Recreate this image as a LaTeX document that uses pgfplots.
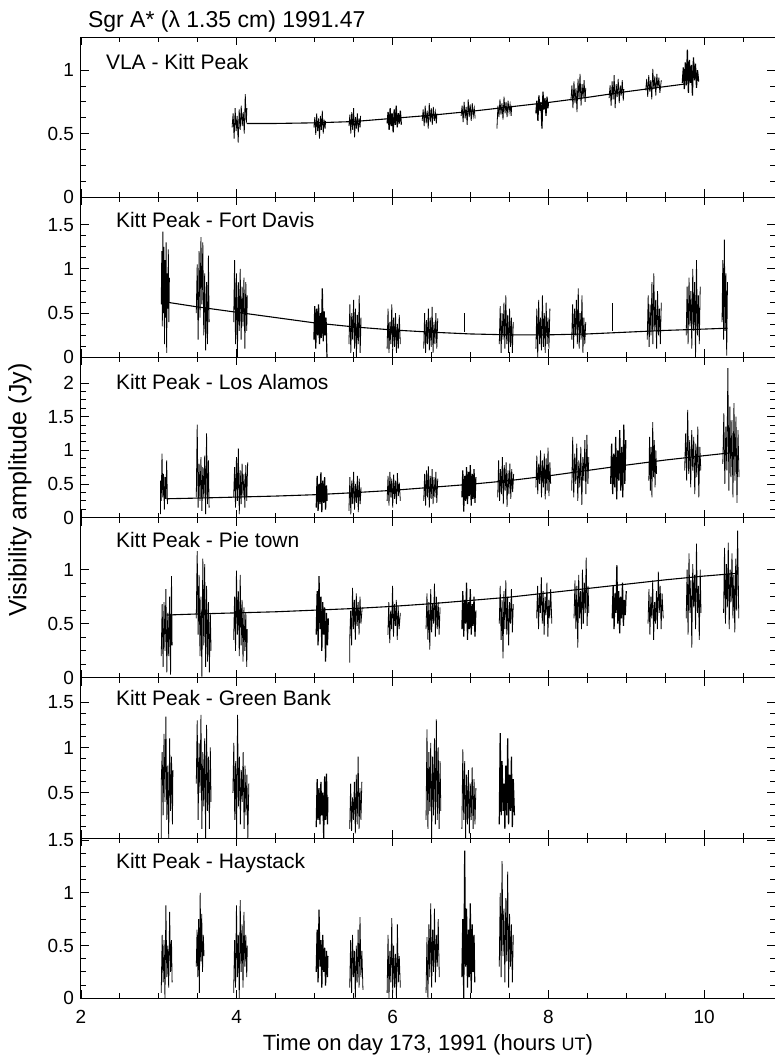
\documentclass[border=0pt]{standalone}
\usepackage{fontspec}
\setmainfont{Liberation Sans}
\usepackage{pgfplots}
\pgfplotsset{compat=1.18}

\newcommand\ticksize{\fontsize{9.5}{11}\selectfont}
\newcommand\lblsize{\fontsize{10.5}{12}\selectfont}

\pgfplotsset{
  panel/.style={
    scale only axis, width=347pt, height=80.1pt,
    xmin=2, xmax=10.91, ymin=0,
    axis line style={line width=0.5pt},
    tick style={black, line width=0.45pt},
    tick align=inside,
    major tick length=4pt, minor tick length=2.5pt,
    xtick={2,4,6,8,10}, minor xtick={2.5,3,...,10.5},
    xticklabels={},
    xticklabel style={yshift=-2.5pt},
    minor y tick num=3,
    ticklabel style={font=\ticksize},
    /pgf/number format/assume math mode=true,
    cycle list={{black, solid, mark=none, line width=0.6pt}},
  },
  model/.style={black, solid, mark=none, line width=0.55pt},
}

\begin{document}
\begin{tikzpicture}
\useasboundingbox (-40.5pt,-510pt) rectangle (347pt,18.5pt);

% ---------------- VLA - Kitt Peak
\begin{axis}[panel, name=p1, at={(0,0)}, anchor=north west,
  ymax=1.26, ytick={0,0.5,1}]
\addplot coordinates {(3.94,0.55)(3.953,0.66)(3.966,0.46)(3.979,0.70)(3.992,0.52)(4.005,0.64)(4.018,0.43)(4.031,0.69)(4.044,0.53)(4.057,0.72)(4.07,0.56)(4.083,0.67)(4.096,0.50)(4.109,0.81)(4.122,0.58)(4.13,0.70)};
\addplot coordinates {(4.99,0.55)(5.002,0.63)(5.014,0.49)(5.026,0.66)(5.038,0.52)(5.05,0.62)(5.062,0.46)(5.074,0.64)(5.086,0.53)(5.098,0.68)(5.11,0.50)(5.122,0.61)(5.134,0.54)(5.14,0.60)};
\addplot coordinates {(5.44,0.56)(5.452,0.65)(5.464,0.50)(5.476,0.67)(5.488,0.53)(5.50,0.70)(5.512,0.47)(5.524,0.63)(5.536,0.54)(5.548,0.66)(5.56,0.51)(5.572,0.62)(5.584,0.55)(5.59,0.64)};
\addplot coordinates {(5.93,0.58)(5.943,0.67)(5.956,0.53)(5.969,0.70)(5.982,0.56)(5.995,0.66)(6.008,0.51)(6.021,0.69)(6.034,0.57)(6.047,0.72)(6.06,0.55)(6.073,0.66)(6.086,0.58)(6.10,0.68)(6.113,0.57)};
\addplot coordinates {(6.38,0.60)(6.393,0.69)(6.406,0.56)(6.419,0.72)(6.432,0.58)(6.445,0.68)(6.458,0.54)(6.471,0.74)(6.484,0.59)(6.497,0.70)(6.51,0.57)(6.523,0.71)(6.536,0.60)(6.549,0.67)(6.562,0.58)(6.57,0.66)};
\addplot coordinates {(6.88,0.64)(6.893,0.72)(6.906,0.59)(6.919,0.75)(6.932,0.62)(6.945,0.71)(6.958,0.57)(6.971,0.77)(6.984,0.63)(6.997,0.73)(7.01,0.60)(7.023,0.74)(7.036,0.64)(7.049,0.70)(7.06,0.62)};
\addplot coordinates {(7.34,0.54)(7.353,0.72)(7.366,0.63)(7.379,0.77)(7.392,0.65)(7.405,0.74)(7.418,0.61)(7.431,0.79)(7.444,0.66)(7.457,0.75)(7.47,0.63)(7.483,0.76)(7.496,0.67)(7.509,0.73)(7.522,0.64)(7.53,0.72)};
\addplot coordinates {(7.84,0.66)(7.853,0.76)(7.866,0.60)(7.879,0.80)(7.892,0.68)(7.905,0.75)(7.918,0.54)(7.931,0.83)(7.944,0.69)(7.957,0.78)(7.97,0.64)(7.983,0.79)(7.996,0.70)(8.0,0.74)};
\addplot coordinates {(8.29,0.76)(8.303,0.88)(8.316,0.70)(8.329,0.91)(8.342,0.74)(8.355,0.86)(8.368,0.67)(8.381,0.93)(8.394,0.77)(8.407,0.97)(8.42,0.72)(8.433,0.89)(8.446,0.78)(8.459,0.92)(8.472,0.75)(8.48,0.86)};
\addplot coordinates {(8.78,0.78)(8.793,0.88)(8.806,0.72)(8.819,0.91)(8.832,0.77)(8.845,0.96)(8.858,0.70)(8.871,0.89)(8.884,0.79)(8.897,0.93)(8.91,0.74)(8.923,0.88)(8.936,0.80)(8.949,0.92)(8.962,0.76)(8.97,0.85)};
\addplot coordinates {(9.25,0.84)(9.263,0.93)(9.276,0.79)(9.289,0.96)(9.302,0.83)(9.315,0.92)(9.328,0.77)(9.341,1.01)(9.354,0.85)(9.367,0.95)(9.38,0.80)(9.393,0.97)(9.406,0.86)(9.419,0.94)(9.432,0.82)(9.45,0.92)};
\addplot coordinates {(9.72,0.90)(9.733,1.02)(9.746,0.85)(9.759,1.06)(9.772,0.88)(9.785,1.16)(9.798,0.82)(9.811,1.08)(9.824,0.90)(9.837,1.04)(9.85,0.80)(9.863,1.10)(9.876,0.92)(9.889,1.05)(9.902,0.86)(9.915,1.00)(9.93,0.91)};
\addplot[model] coordinates {(4.13,0.58)(4.5,0.58)(5,0.585)(5.5,0.595)(6.0,0.62)(6.5,0.645)(7.0,0.675)(7.5,0.71)(8.0,0.745)(8.5,0.785)(9.0,0.83)(9.5,0.87)(9.75,0.89)};
\node[anchor=west, font=\lblsize, xshift=9pt, yshift=-12.5pt] at (rel axis cs:0,1) {VLA - Kitt Peak};
\end{axis}

% ---------------- Kitt Peak - Fort Davis
\begin{axis}[panel, name=p2, at={(0,-80.1pt)}, anchor=north west,
  ymax=1.81, ytick={0,0.5,1,1.5}]
\addplot coordinates {(3.03,0.60)(3.037,1.20)(3.044,0.35)(3.051,1.42)(3.058,0.50)(3.065,1.25)(3.072,0.15)(3.079,1.10)(3.086,0.45)(3.093,1.30)(3.10,0.05)(3.107,0.95)(3.114,0.55)(3.121,1.22)(3.128,0.40)(3.135,0.90)};
\addplot coordinates {(3.48,0.50)(3.492,1.05)(3.504,0.20)(3.516,1.20)(3.528,0.45)(3.54,1.36)(3.552,0.60)(3.564,1.30)(3.576,0.25)(3.588,0.95)(3.60,0.08)(3.612,0.85)(3.624,0.15)(3.636,1.15)(3.645,0.40)};
\addplot coordinates {(3.96,0.40)(3.972,1.10)(3.984,0.15)(3.996,0.95)(4.008,0.00)(4.02,0.85)(4.032,0.30)(4.044,1.00)(4.056,0.20)(4.068,0.80)(4.08,0.35)(4.092,0.90)(4.104,0.10)(4.116,0.85)(4.128,0.30)(4.135,0.70)};
\addplot coordinates {(4.99,0.20)(5.002,0.58)(5.014,0.10)(5.026,0.55)(5.038,0.25)(5.05,0.60)(5.062,0.15)(5.074,0.50)(5.086,0.22)(5.098,0.78)(5.11,0.18)(5.122,0.52)(5.134,0.25)(5.146,0.45)(5.158,0.00)};
\addplot coordinates {(5.44,0.15)(5.452,0.60)(5.464,0.05)(5.476,0.50)(5.488,0.20)(5.50,0.65)(5.512,0.10)(5.524,0.55)(5.536,0.00)(5.548,0.48)(5.56,0.15)(5.572,0.70)(5.584,0.05)(5.596,0.45)};
\addplot coordinates {(5.93,0.10)(5.942,0.55)(5.954,0.05)(5.966,0.40)(5.978,0.15)(5.99,0.60)(6.002,0.08)(6.014,0.45)(6.026,0.12)(6.038,0.50)(6.05,0.05)(6.062,0.38)(6.074,0.10)(6.086,0.48)(6.10,0.15)};
\addplot coordinates {(6.40,0.10)(6.412,0.50)(6.424,0.05)(6.436,0.42)(6.448,0.15)(6.46,0.55)(6.472,0.08)(6.484,0.45)(6.496,0.12)(6.508,0.57)(6.52,0.05)(6.532,0.40)(6.544,0.15)(6.556,0.50)(6.568,0.10)(6.58,0.44)};
\addplot coordinates {(6.92,0.29)(6.92,0.50)};
\addplot coordinates {(7.37,0.15)(7.382,0.58)(7.394,0.05)(7.406,0.50)(7.418,0.20)(7.43,0.62)(7.442,0.10)(7.454,0.70)(7.466,0.15)(7.478,0.48)(7.49,0.05)(7.502,0.55)(7.514,0.12)(7.526,0.45)(7.538,0.05)(7.55,0.40)};
\addplot coordinates {(7.84,0.10)(7.852,0.55)(7.864,0.00)(7.876,0.65)(7.888,0.15)(7.90,0.45)(7.912,0.08)(7.924,0.70)(7.936,0.12)(7.948,0.50)(7.96,0.05)(7.972,0.62)(7.984,0.15)(7.996,0.45)(8.008,0.10)(8.02,0.55)};
\addplot coordinates {(8.30,0.20)(8.312,0.60)(8.324,0.10)(8.336,0.55)(8.348,0.25)(8.36,0.65)(8.372,0.15)(8.384,0.78)(8.396,0.10)(8.408,0.50)(8.42,0.20)(8.432,0.70)(8.444,0.05)(8.456,0.45)(8.468,0.15)(8.48,0.40)};
\addplot coordinates {(8.82,0.30)(8.82,0.62)};
\addplot coordinates {(9.27,0.20)(9.282,0.70)(9.294,0.12)(9.306,0.60)(9.318,0.25)(9.33,0.85)(9.342,0.15)(9.354,0.95)(9.366,0.30)(9.378,0.65)(9.39,0.10)(9.402,0.75)(9.414,0.25)(9.426,0.55)(9.438,0.15)(9.45,0.62)};
\addplot coordinates {(9.77,0.25)(9.782,0.80)(9.794,0.15)(9.806,0.90)(9.818,0.35)(9.83,0.75)(9.842,0.10)(9.854,1.00)(9.866,0.30)(9.878,0.85)(9.89,0.00)(9.902,1.10)(9.914,0.25)(9.926,0.70)(9.938,0.15)(9.95,0.80)};
\addplot coordinates {(10.23,0.40)(10.24,1.10)(10.25,0.20)(10.26,1.33)(10.27,0.30)(10.28,0.95)(10.29,0.02)(10.30,0.85)};
\addplot[model] coordinates {(3.13,0.62)(3.5,0.57)(4,0.51)(4.5,0.45)(5,0.39)(5.5,0.345)(6,0.31)(6.5,0.285)(7,0.265)(7.5,0.255)(8,0.255)(8.5,0.265)(9,0.285)(9.5,0.305)(10,0.32)(10.3,0.33)};
\node[anchor=west, font=\lblsize, xshift=14pt, yshift=-11.5pt] at (rel axis cs:0,1) {Kitt Peak - Fort Davis};
\end{axis}

% ---------------- Kitt Peak - Los Alamos
\begin{axis}[panel, name=p3, at={(0,-160.2pt)}, anchor=north west,
  ymax=2.38, ytick={0,0.5,1,1.5,2}]
\addplot coordinates {(3.02,0.05)(3.02,0.55)(3.03,0.25)(3.04,0.95)(3.05,0.30)(3.06,0.65)(3.07,0.12)(3.08,0.60)(3.09,0.28)(3.10,0.85)(3.11,0.20)};
\addplot coordinates {(3.48,0.30)(3.492,1.38)(3.504,0.15)(3.516,0.80)(3.528,0.25)(3.54,0.90)(3.552,0.10)(3.564,0.75)(3.576,0.30)(3.588,0.92)(3.60,0.05)(3.612,1.25)(3.624,0.20)(3.636,0.85)(3.645,0.15)};
\addplot coordinates {(3.96,0.30)(3.972,0.75)(3.984,0.15)(3.996,0.90)(4.008,0.25)(4.02,1.03)(4.032,0.05)(4.044,0.70)(4.056,0.20)(4.068,0.80)(4.08,0.30)(4.092,0.65)(4.104,0.15)(4.116,0.78)(4.128,0.25)(4.14,0.82)};
\addplot coordinates {(5.02,0.15)(5.032,0.62)(5.044,0.10)(5.056,0.50)(5.068,0.20)(5.08,0.67)(5.092,0.08)(5.104,0.55)(5.116,0.22)(5.128,0.60)(5.14,0.12)(5.152,0.48)(5.16,0.25)};
\addplot coordinates {(5.44,0.10)(5.452,0.60)(5.464,0.05)(5.476,0.55)(5.488,0.20)(5.50,0.68)(5.512,0.12)(5.524,0.50)(5.536,0.22)(5.548,0.62)(5.56,0.08)(5.572,0.58)(5.584,0.20)(5.596,0.45)};
\addplot coordinates {(5.93,0.25)(5.942,0.62)(5.954,0.18)(5.966,0.68)(5.978,0.30)(5.99,0.58)(6.002,0.15)(6.014,0.64)(6.026,0.28)(6.038,0.55)(6.05,0.20)(6.062,0.66)(6.074,0.32)(6.086,0.52)(6.10,0.25)};
\addplot coordinates {(6.40,0.25)(6.412,0.65)(6.424,0.18)(6.436,0.70)(6.448,0.30)(6.46,0.76)(6.472,0.15)(6.484,0.62)(6.496,0.28)(6.508,0.72)(6.52,0.20)(6.532,0.60)(6.544,0.30)(6.556,0.68)(6.568,0.22)(6.58,0.58)};
\addplot coordinates {(6.89,0.30)(6.902,0.70)(6.914,0.09)(6.926,0.62)(6.938,0.25)(6.95,0.75)(6.962,0.20)(6.974,0.68)(6.986,0.32)(6.998,0.78)(7.01,0.18)(7.022,0.65)(7.034,0.28)(7.046,0.72)(7.058,0.22)(7.07,0.60)};
\addplot coordinates {(7.35,0.30)(7.362,0.85)(7.374,0.25)(7.386,0.72)(7.398,0.35)(7.41,0.90)(7.422,0.20)(7.434,0.78)(7.446,0.40)(7.458,0.82)(7.47,0.16)(7.482,0.70)(7.494,0.35)(7.506,0.80)(7.518,0.28)(7.53,0.72)(7.542,0.38)(7.555,0.65)};
\addplot coordinates {(7.84,0.45)(7.852,0.92)(7.864,0.35)(7.876,0.80)(7.888,0.50)(7.90,1.00)(7.912,0.30)(7.924,0.85)(7.936,0.45)(7.948,0.95)(7.96,0.27)(7.972,0.88)(7.984,0.40)(7.996,1.04)(8.008,0.32)(8.02,0.82)(8.03,0.50)};
\addplot coordinates {(8.30,0.40)(8.313,1.20)(8.326,0.30)(8.339,0.95)(8.352,0.50)(8.365,1.10)(8.378,0.25)(8.391,0.85)(8.404,0.45)(8.417,1.05)(8.43,0.19)(8.443,0.90)(8.456,0.55)(8.469,1.15)(8.482,0.35)(8.495,1.23)(8.508,0.50)(8.52,0.90)};
\addplot coordinates {(8.80,0.50)(8.813,1.10)(8.826,0.35)(8.839,0.95)(8.852,0.45)(8.865,1.20)(8.878,0.27)(8.891,1.00)(8.904,0.55)(8.917,1.30)(8.93,0.40)(8.943,1.05)(8.956,0.30)(8.969,1.38)(8.982,0.50)(8.995,1.15)};
\addplot coordinates {(9.29,0.55)(9.30,1.20)(9.31,0.40)(9.32,1.05)(9.33,0.30)(9.34,1.42)(9.35,0.60)(9.36,1.15)(9.37,0.45)(9.38,1.00)(9.39,0.65)};
\addplot coordinates {(9.75,0.70)(9.763,1.25)(9.776,0.55)(9.789,1.60)(9.802,0.65)(9.815,1.15)(9.828,0.45)(9.841,1.30)(9.854,0.70)(9.867,1.20)(9.88,0.35)(9.893,1.10)(9.906,0.60)(9.919,1.35)(9.932,0.30)(9.945,1.05)(9.958,0.70)};
\addplot coordinates {(10.24,0.80)(10.253,1.55)(10.266,0.50)(10.279,1.35)(10.292,0.70)(10.305,2.22)(10.318,0.40)(10.331,1.65)(10.344,0.60)(10.357,1.45)(10.37,0.30)(10.383,1.70)(10.396,0.55)(10.409,1.50)(10.422,0.22)(10.435,1.30)(10.448,0.60)};
\addplot[model] coordinates {(3.1,0.28)(3.5,0.29)(4,0.305)(4.5,0.32)(5,0.34)(5.5,0.37)(6,0.405)(6.5,0.45)(7,0.495)(7.5,0.55)(8,0.62)(8.5,0.70)(9,0.78)(9.5,0.855)(10,0.92)(10.4,0.97)};
\node[anchor=west, font=\lblsize, xshift=14pt, yshift=-12.5pt] at (rel axis cs:0,1) {Kitt Peak - Los Alamos};
\end{axis}

% ---------------- Kitt Peak - Pie town
\begin{axis}[panel, name=p4, at={(0,-240.3pt)}, anchor=north west,
  ymax=1.48, ytick={0,0.5,1}]
\addplot coordinates {(3.03,0.20)(3.042,0.68)(3.054,0.10)(3.066,0.70)(3.078,0.25)(3.09,0.82)(3.102,0.05)(3.114,0.60)(3.126,0.20)(3.138,0.75)(3.15,0.03)(3.162,0.94)(3.17,0.30)};
\addplot coordinates {(3.48,0.55)(3.492,1.17)(3.504,0.40)(3.516,0.95)(3.528,0.20)(3.54,0.75)(3.552,0.01)(3.564,1.10)(3.576,0.30)(3.588,1.05)(3.60,0.10)(3.612,0.85)(3.624,0.15)(3.636,0.70)(3.648,0.05)(3.66,0.60)(3.67,0.25)};
\addplot coordinates {(3.96,0.35)(3.972,0.75)(3.984,0.25)(3.996,0.99)(4.008,0.40)(4.02,0.80)(4.032,0.20)(4.044,0.95)(4.056,0.30)(4.068,0.72)(4.08,0.15)(4.092,0.65)(4.104,0.25)(4.116,0.60)(4.128,0.10)(4.135,0.45)};
\addplot coordinates {(5.02,0.40)(5.032,0.80)(5.044,0.30)(5.056,0.94)(5.068,0.45)(5.08,0.75)(5.092,0.25)(5.104,0.70)(5.116,0.40)(5.128,0.65)(5.14,0.15)(5.152,0.60)(5.164,0.30)(5.176,0.55)};
\addplot coordinates {(5.45,0.14)(5.45,0.35)(5.462,0.62)(5.474,0.30)(5.486,0.83)(5.498,0.45)(5.51,0.72)(5.522,0.35)(5.534,0.78)(5.546,0.48)(5.558,0.70)(5.57,0.40)(5.582,0.75)(5.594,0.50)(5.61,0.65)};
\addplot coordinates {(5.94,0.40)(5.952,0.70)(5.964,0.32)(5.976,0.62)(5.988,0.45)(6.00,0.85)(6.012,0.38)(6.024,0.68)(6.036,0.48)(6.048,0.72)(6.06,0.35)(6.072,0.66)(6.084,0.45)(6.10,0.60)};
\addplot coordinates {(6.43,0.45)(6.442,0.78)(6.454,0.35)(6.466,0.70)(6.478,0.26)(6.49,0.82)(6.502,0.42)(6.514,0.68)(6.526,0.50)(6.538,0.87)(6.55,0.38)(6.562,0.75)(6.574,0.45)(6.586,0.70)(6.598,0.40)(6.61,0.65)};
\addplot coordinates {(6.89,0.45)(6.902,0.80)(6.914,0.38)(6.926,0.72)(6.938,0.50)(6.95,0.88)(6.962,0.35)(6.974,0.70)(6.986,0.45)(6.998,0.82)(7.01,0.40)(7.022,0.68)(7.034,0.48)(7.046,0.75)(7.058,0.38)(7.07,0.62)};
\addplot coordinates {(7.37,0.50)(7.382,0.85)(7.394,0.35)(7.406,0.72)(7.418,0.18)(7.43,0.80)(7.442,0.45)(7.454,0.90)(7.466,0.40)(7.478,0.75)(7.49,0.30)(7.502,0.70)(7.514,0.50)(7.526,0.82)(7.538,0.42)(7.55,0.68)};
\addplot coordinates {(7.85,0.55)(7.862,0.85)(7.874,0.45)(7.886,0.78)(7.898,0.60)(7.91,0.93)(7.922,0.50)(7.934,0.80)(7.946,0.40)(7.958,0.75)(7.97,0.58)(7.982,0.88)(7.994,0.38)(8.006,0.72)(8.018,0.55)(8.03,0.82)(8.045,0.50)};
\addplot coordinates {(8.33,0.55)(8.342,0.90)(8.354,0.45)(8.366,0.85)(8.378,0.28)(8.39,0.95)(8.402,0.55)(8.414,0.80)(8.426,0.45)(8.438,1.00)(8.45,0.50)(8.462,0.88)(8.474,0.60)(8.486,1.11)(8.498,0.48)(8.51,0.85)(8.52,0.60)};
\addplot coordinates {(8.82,0.55)(8.832,0.85)(8.844,0.45)(8.856,0.78)(8.868,0.60)(8.88,1.04)(8.892,0.50)(8.904,0.80)(8.916,0.41)(8.928,0.75)(8.94,0.55)(8.952,0.88)(8.964,0.48)(8.976,0.72)(8.988,0.58)(9.00,0.80)};
\addplot coordinates {(9.28,0.50)(9.292,0.82)(9.304,0.40)(9.316,0.75)(9.328,0.55)(9.34,0.90)(9.352,0.35)(9.364,0.70)(9.376,0.50)(9.388,0.80)(9.40,0.45)(9.412,0.98)(9.424,0.60)(9.436,0.85)(9.448,0.45)(9.46,0.78)(9.475,0.55)};
\addplot coordinates {(9.77,0.55)(9.782,1.00)(9.794,0.40)(9.806,1.15)(9.818,0.60)(9.83,0.90)(9.842,0.28)(9.854,1.05)(9.866,0.65)(9.878,0.95)(9.89,0.45)(9.902,1.24)(9.914,0.60)(9.926,0.85)(9.938,0.35)(9.95,1.00)(9.96,0.60)};
\addplot coordinates {(10.25,0.60)(10.262,1.20)(10.274,0.50)(10.286,1.05)(10.298,0.65)(10.31,1.25)(10.322,0.45)(10.334,1.00)(10.346,0.70)(10.358,1.15)(10.37,0.55)(10.382,0.95)(10.394,0.42)(10.406,1.10)(10.418,0.62)(10.43,1.36)(10.445,0.55)};
\addplot[model] coordinates {(3.1,0.58)(3.5,0.59)(4,0.60)(4.5,0.61)(5,0.625)(5.5,0.64)(6,0.66)(6.5,0.685)(7,0.715)(7.5,0.745)(8,0.785)(8.5,0.825)(9,0.865)(9.5,0.905)(10,0.94)(10.42,0.965)};
\node[anchor=west, font=\lblsize, xshift=14pt, yshift=-11pt] at (rel axis cs:0,1) {Kitt Peak - Pie town};
\end{axis}

% ---------------- Kitt Peak - Green Bank
\begin{axis}[panel, name=p5, at={(0,-320.4pt)}, anchor=north west,
  ymax=1.77, ytick={0,0.5,1,1.5}, yticklabels={,0.5,1,1.5}]
\addplot coordinates {(3.03,0.00)(3.03,0.60)(3.042,0.95)(3.054,0.25)(3.066,1.15)(3.078,0.40)(3.09,1.34)(3.102,0.20)(3.114,0.80)(3.126,0.00)(3.138,1.10)(3.15,0.30)(3.162,0.90)(3.174,0.15)(3.18,0.75)};
\addplot coordinates {(3.48,0.60)(3.492,1.30)(3.504,0.20)(3.516,1.05)(3.528,0.50)(3.54,1.36)(3.552,0.10)(3.564,0.95)(3.576,0.35)(3.588,1.10)(3.60,0.00)(3.612,1.25)(3.624,0.30)(3.636,0.90)(3.648,0.10)(3.66,1.00)(3.67,0.40)};
\addplot coordinates {(3.95,0.50)(3.962,1.05)(3.974,0.20)(3.986,0.85)(3.998,0.00)(4.01,1.36)(4.022,0.35)(4.034,0.90)(4.046,0.15)(4.058,0.75)(4.07,0.40)(4.082,0.95)(4.094,0.10)(4.106,0.80)(4.118,0.25)(4.13,0.70)(4.142,0.00)(4.155,0.60)};
\addplot coordinates {(5.02,0.12)(5.032,0.65)(5.044,0.20)(5.056,0.55)(5.068,0.15)(5.08,0.62)(5.092,0.25)(5.104,0.50)(5.116,0.00)(5.128,0.68)(5.14,0.20)(5.152,0.71)(5.164,0.15)(5.17,0.45)};
\addplot coordinates {(5.45,0.10)(5.462,0.60)(5.474,0.08)(5.486,0.45)(5.498,0.20)(5.51,0.62)(5.522,0.05)(5.534,0.70)(5.546,0.15)(5.558,0.90)(5.57,0.10)(5.582,0.55)(5.594,0.20)(5.606,0.62)};
\addplot coordinates {(6.43,0.20)(6.442,1.20)(6.454,0.10)(6.466,0.95)(6.478,0.30)(6.49,1.05)(6.502,0.00)(6.514,0.90)(6.526,0.25)(6.538,1.10)(6.55,0.15)(6.562,1.31)(6.574,0.20)(6.586,1.00)(6.598,0.10)(6.61,0.85)(6.62,0.30)};
\addplot coordinates {(6.89,0.10)(6.902,0.98)(6.914,0.20)(6.926,0.85)(6.938,0.00)(6.95,0.70)(6.962,0.15)(6.974,0.75)(6.986,0.05)(6.998,0.60)(7.01,0.20)(7.022,0.78)(7.034,0.10)(7.046,0.65)(7.058,0.15)(7.07,0.55)};
\addplot coordinates {(7.37,0.15)(7.382,1.16)(7.394,0.25)(7.406,0.85)(7.418,0.30)(7.43,0.60)(7.442,0.10)(7.454,0.80)(7.466,0.25)(7.478,1.10)(7.49,0.15)(7.502,0.70)(7.514,0.30)(7.526,0.90)(7.538,0.12)(7.55,0.65)(7.565,0.25)};
\node[anchor=west, font=\lblsize, xshift=14pt, yshift=-10pt] at (rel axis cs:0,1) {Kitt Peak - Green Bank};
\end{axis}

% ---------------- Kitt Peak - Haystack
\begin{axis}[panel, name=p6, at={(0,-400.5pt)}, anchor=north west,
  ymax=1.52, ytick={0,0.5,1,1.5}, xticklabels={2,4,6,8,10}]
\addplot coordinates {(3.03,0.05)(3.042,0.60)(3.054,0.15)(3.066,0.55)(3.078,0.00)(3.09,0.88)(3.102,0.20)(3.114,0.50)(3.126,0.10)(3.138,0.82)(3.15,0.25)(3.162,0.55)(3.17,0.15)};
\addplot coordinates {(3.48,0.30)(3.49,0.65)(3.50,0.20)(3.51,0.75)(3.52,0.05)(3.53,1.00)(3.54,0.35)(3.55,0.80)(3.56,0.25)(3.57,0.60)(3.58,0.40)};
\addplot coordinates {(3.96,0.05)(3.972,0.55)(3.984,0.10)(3.996,0.88)(4.008,0.20)(4.02,0.60)(4.032,0.00)(4.044,0.93)(4.056,0.25)(4.068,0.70)(4.08,0.10)(4.092,0.82)(4.104,0.30)(4.116,0.60)(4.128,0.20)(4.135,0.50)};
\addplot coordinates {(5.02,0.25)(5.032,0.65)(5.044,0.15)(5.056,0.84)(5.068,0.30)(5.08,0.55)(5.092,0.10)(5.104,0.60)(5.116,0.25)(5.128,0.48)(5.14,0.12)(5.152,0.45)(5.164,0.20)(5.17,0.40)};
\addplot coordinates {(5.45,0.10)(5.462,0.55)(5.474,0.05)(5.486,0.60)(5.498,0.20)(5.51,0.45)(5.522,0.00)(5.534,0.50)(5.546,0.15)(5.558,0.65)(5.57,0.10)(5.582,0.77)(5.594,0.20)(5.606,0.45)(5.62,0.08)};
\addplot coordinates {(5.93,0.05)(5.942,0.60)(5.954,0.00)(5.966,0.45)(5.978,0.15)(5.99,0.76)(6.002,0.05)(6.014,0.50)(6.026,0.10)(6.038,0.42)(6.05,0.00)(6.062,0.70)(6.074,0.15)(6.086,0.40)(6.10,0.10)};
\addplot coordinates {(6.43,0.05)(6.442,0.58)(6.454,0.00)(6.466,0.70)(6.478,0.20)(6.49,0.90)(6.502,0.10)(6.514,0.65)(6.526,0.25)(6.538,0.85)(6.55,0.15)(6.562,0.60)(6.574,0.30)(6.586,0.75)(6.6,0.20)};
\addplot coordinates {(6.89,0.20)(6.902,0.75)(6.914,0.00)(6.926,1.40)(6.938,0.30)(6.95,0.85)(6.962,0.10)(6.974,0.65)(6.986,0.20)(6.998,0.90)(7.01,0.05)(7.022,0.70)(7.034,0.25)(7.046,0.60)(7.055,0.15)};
\addplot coordinates {(7.37,0.30)(7.382,1.00)(7.394,0.20)(7.406,1.30)(7.418,0.40)(7.43,0.85)(7.442,0.15)(7.454,0.95)(7.466,0.35)(7.478,1.20)(7.49,0.10)(7.502,0.80)(7.514,0.30)(7.526,0.70)(7.538,0.15)(7.55,0.60)};
\node[anchor=west, font=\lblsize, xshift=14pt, yshift=-12.5pt] at (rel axis cs:0,1) {Kitt Peak - Haystack};
\end{axis}

\node[anchor=base west, font=\fontsize{11.5}{13}\selectfont] at ([yshift=5pt]p1.north west) {Sgr A* (λ 1.35 cm) 1991.47};
\node[rotate=90, font=\fontsize{12.5}{14}\selectfont] at (-30.5pt,-226.5pt) {Visibility amplitude (Jy)};
\node[anchor=base, font=\fontsize{11}{13}\selectfont] at (173.5pt,-506.5pt) {Time on day 173, 1991 (hours {\fontsize{9}{10}\selectfont UT})};
\end{tikzpicture}
\end{document}
